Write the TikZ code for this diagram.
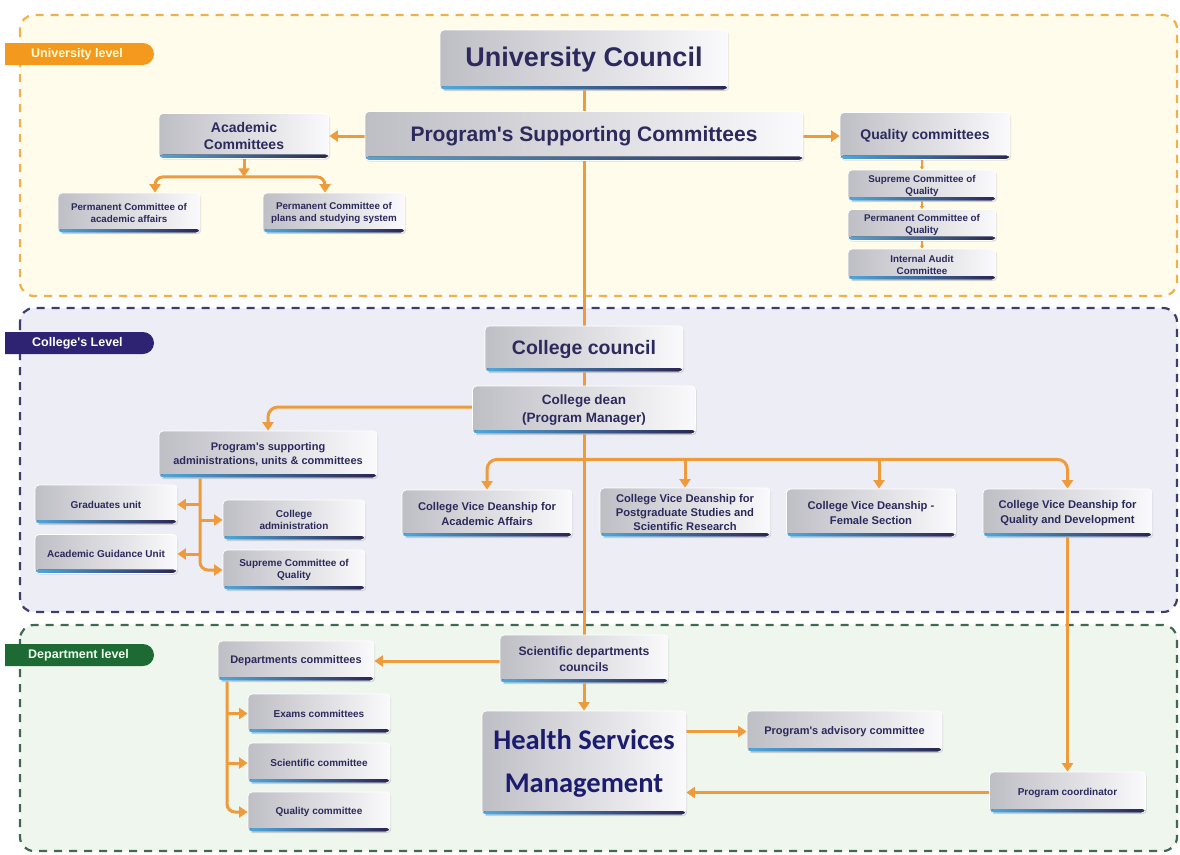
\documentclass[tikz,border=0pt]{standalone}
\usepackage{fontspec}
\setmainfont{Liberation Sans}
\newfontfamily\hsmfont{Carlito}
\usetikzlibrary{arrows.meta,shadows,calc}

\definecolor{wire}{HTML}{EF9B3C}
\definecolor{txt}{HTML}{2C2A5C}
\definecolor{hsmtxt}{HTML}{1B1C6E}
\definecolor{boxL}{HTML}{BEBEC5}
\definecolor{boxR}{HTML}{FAFAFC}
\definecolor{stripL}{HTML}{4FA8DC}
\definecolor{stripR}{HTML}{2A2552}
\definecolor{uniFill}{HTML}{FFFCEB}
\definecolor{uniLine}{HTML}{EDB24C}
\definecolor{uniTag}{HTML}{F39A1E}
\definecolor{colFill}{HTML}{EDEDF6}
\definecolor{colLine}{HTML}{3E3D70}
\definecolor{colTag}{HTML}{2E2372}
\definecolor{depFill}{HTML}{EEF6EE}
\definecolor{depLine}{HTML}{406A50}
\definecolor{depTag}{HTML}{1D6A35}

\newcommand\fsz[2]{\fontsize{#1}{#2}\selectfont}
\newcommand\apos{\textquotesingle}

\pgfdeclarelayer{bg}
\pgfdeclarelayer{wires}
\pgfsetlayers{bg,wires,main}

\begin{document}
\begin{tikzpicture}[x=1pt,y=-1pt,
  box/.style={rectangle, rounded corners=4pt, draw=white, line width=0.8pt,
    left color=boxL, right color=boxR, text=txt, align=center, inner sep=1pt,
    drop shadow={shadow xshift=1.2pt, shadow yshift=-1.2pt, opacity=0.25},
    path picture={\fill[left color=stripL, right color=stripR]
      (path picture bounding box.south west) rectangle ([yshift=4pt]path picture bounding box.south east);}},
  sz/.style n args={2}{minimum width=#1pt, minimum height=#2pt},
  region/.style={rounded corners=14pt, line width=2.2pt, dash pattern=on 8pt off 7pt},
  tag/.style={anchor=west, inner sep=0pt, font=\fsz{12.5}{14}\bfseries},
  conn/.style={draw=wire, line width=3pt},
  thinconn/.style={draw=wire, line width=1.2pt, -{Triangle[width=4pt,length=3pt]}},
  >={Triangle[width=11pt,length=8.5pt]}
]
\useasboundingbox (0,0) rectangle (1180,854);

% level panels
\begin{pgfonlayer}{bg}
  \fill[white] (0,0) rectangle (1180,854);
  \draw[region, draw=uniLine, fill=uniFill] (20,15) rectangle (1177,296);
  \draw[region, draw=colLine, fill=colFill] (20,308) rectangle (1177,612);
  \draw[region, draw=depLine, fill=depFill] (20,625) rectangle (1177,851);
  \begin{scope}
    \clip (5,0) rectangle (300,854);
    \fill[uniTag, rounded corners=11pt] (-20,43) rectangle (154,65);
    \fill[colTag, rounded corners=11pt] (-20,332) rectangle (154,354);
    \fill[depTag, rounded corners=11pt] (-20,644) rectangle (154,666);
  \end{scope}
\end{pgfonlayer}
\node[tag, text=white!85!yellow] (tagU) at (31,54) {University level};
\node[tag, text=white] (tagC) at (32,343) {College\apos s Level};
\node[tag, text=white!92!green] (tagD) at (28,655) {Department level};

% university level
\node[box, sz={288}{60}, font=\fsz{27}{30}\bfseries] (uc) at (584,60) {University Council};
\node[box, sz={438}{49}, font=\fsz{21}{24}\bfseries] (psc) at (584,136) {Program\apos s Supporting Committees};
\node[box, sz={170}{45}, font=\fsz{14}{17}\bfseries] (ac) at (244,136) {Academic\\Committees};
\node[box, sz={142}{40}, font=\fsz{9.8}{12}\bfseries] (pca) at (129,213) {Permanent Committee of\\academic affairs};
\node[box, sz={142}{40}, font=\fsz{9.8}{12}\bfseries] (pcp) at (334,213) {Permanent Committee of\\plans and studying system};
\node[box, sz={170}{47}, font=\fsz{14}{17}\bfseries] (qc) at (925,136) {Quality committees};
\node[box, sz={148}{31}, font=\fsz{9.8}{12}\bfseries] (sq1) at (922,185.5) {Supreme Committee of\\Quality};
\node[box, sz={148}{31}, font=\fsz{9.8}{12}\bfseries] (pq) at (922,225) {Permanent Committee of\\Quality};
\node[box, sz={148}{31}, font=\fsz{9.8}{12}\bfseries] (ia) at (922,264.5) {Internal Audit\\Committee};

% college level
\node[box, sz={198}{46}, font=\fsz{19.5}{22}\bfseries] (cc) at (584,349) {College council};
\node[box, sz={223}{48}, font=\fsz{13.5}{18}\bfseries] (cd) at (584,410) {College dean\\(Program Manager)};
\node[box, sz={218}{47}, font=\fsz{11}{13.5}\bfseries] (psa) at (268,454.5) {Program\apos s supporting\\administrations, units \& committees};
\node[box, sz={142}{39}, font=\fsz{10}{12}\bfseries] (gu) at (106,504.5) {Graduates unit};
\node[box, sz={142}{39}, font=\fsz{10}{12}\bfseries] (agu) at (106,554) {Academic Guidance Unit};
\node[box, sz={142}{40}, font=\fsz{10}{12.5}\bfseries] (cadm) at (294,520) {College\\administration};
\node[box, sz={142}{40}, font=\fsz{10}{12.5}\bfseries] (scq) at (294,570) {Supreme Committee of\\Quality};
\node[box, sz={170}{47}, font=\fsz{11.2}{15}\bfseries] (vaa) at (487,513.5) {College Vice Deanship for\\Academic Affairs};
\node[box, sz={170}{49}, font=\fsz{11.2}{14.3}\bfseries] (vpg) at (685,512.5) {College Vice Deanship for\\Postgraduate Studies and\\Scientific Research};
\node[box, sz={169}{48}, font=\fsz{11.2}{15}\bfseries] (vfs) at (871,513) {College Vice Deanship -\\Female Section};
\node[box, sz={169}{48}, font=\fsz{11.2}{15}\bfseries] (vqd) at (1067.5,513) {College Vice Deanship for\\Quality and Development};

% department level
\node[box, sz={168}{48}, font=\fsz{12.2}{16}\bfseries] (sdc) at (584,659) {Scientific departments\\councils};
\node[box, sz={156}{40}, font=\fsz{11}{13}\bfseries] (dc) at (296,661) {Departments committees};
\node[box, sz={142}{39}, font=\fsz{10}{12}\bfseries] (ex) at (319,713.5) {Exams committees};
\node[box, sz={142}{40}, font=\fsz{10}{12}\bfseries] (sci) at (319,763) {Scientific committee};
\node[box, sz={142}{40}, font=\fsz{10}{12}\bfseries] (qcm) at (319,812) {Quality committee};
\node[box, sz={204}{104}, font=\hsmfont\fsz{28.5}{43}\bfseries, text=hsmtxt] (hsm) at (584,763) {Health Services\\Management};
\node[box, sz={195}{41}, font=\fsz{11}{13}\bfseries] (adv) at (844.5,731.5) {Program\apos s advisory committee};
\node[box, sz={156}{41}, font=\fsz{10}{12}\bfseries] (pco) at (1067.5,792.5) {Program coordinator};

% connectors
\begin{pgfonlayer}{wires}
  % main spine
  \draw[conn] (uc.south) -- (psc.north);
  \draw[conn] (psc.south) -- (cc.north);
  \draw[conn] (cc.south) -- (cd.north);
  \draw[conn] (cd.south) -- (sdc.north);
  \draw[conn,->] (sdc.south) -- (hsm.north);

  % university level
  \draw[conn,->] (psc.west) -- (ac.east);
  \draw[conn,->] (psc.east) -- (qc.west);
  \coordinate (acfork) at ($(ac.south)+(0,18)$);
  \draw[conn,->,rounded corners=8pt] (acfork) -| ([xshift=26pt]pca.north);
  \draw[conn,->,rounded corners=8pt] (acfork) -| ([xshift=-9pt]pcp.north);
  \draw[conn,->] (ac.south) -- (acfork);
  \draw[thinconn] (qc.south -| sq1.north) -- (sq1.north);
  \draw[thinconn] (sq1.south) -- (pq.north);
  \draw[thinconn] (pq.south) -- (ia.north);

  % college level
  \draw[conn,->,rounded corners=10pt] ([yshift=3pt]cd.west) -| (psa.north);
  \coordinate (trunk) at ([xshift=-68pt]psa.south);
  \draw[conn,->,rounded corners=8pt] (trunk) |- (scq.west);
  \draw[conn,->] (trunk |- gu.east) -- (gu.east);
  \draw[conn,->] (trunk |- cadm.west) -- (cadm.west);
  \draw[conn,->] (trunk |- agu.east) -- (agu.east);
  \coordinate (vb) at ($(cd.south)+(0,25)$);
  \draw[conn,->,rounded corners=10pt] (vb) -| (vaa.north);
  \draw[conn,->,rounded corners=10pt] (vb) -| (vqd.north);
  \draw[conn,->] (vb -| vpg.north) -- (vpg.north);
  \coordinate (vfsin) at ([xshift=8pt]vfs.north);
  \draw[conn,->] (vb -| vfsin) -- (vfsin);
  \draw[conn,->] (vqd.south) -- (pco.north);

  % department level
  \draw[conn,->] (dc.east -| sdc.west) -- (dc.east);
  \coordinate (dtrunk) at ([xshift=-69pt]dc.south);
  \draw[conn,->,rounded corners=8pt] (dtrunk) |- (qcm.west);
  \draw[conn,->] (dtrunk |- ex.west) -- (ex.west);
  \draw[conn,->] (dtrunk |- sci.west) -- (sci.west);
  \draw[conn,->] (hsm.east |- adv.west) -- (adv.west);
  \draw[conn,->] (pco.west) -- (pco.west -| hsm.east);
\end{pgfonlayer}
\end{tikzpicture}
\end{document}
